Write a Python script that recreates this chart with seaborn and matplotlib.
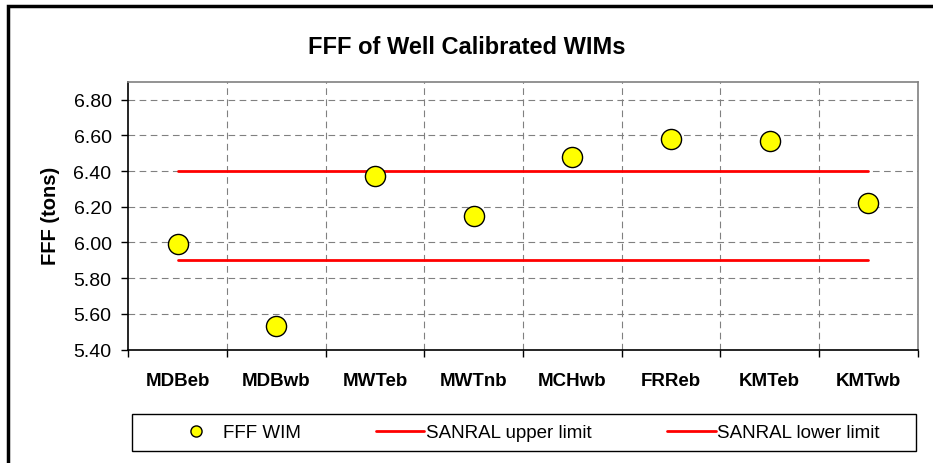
import matplotlib
matplotlib.use("Agg")
from matplotlib import pyplot as plt
from matplotlib.lines import Line2D
from matplotlib.patches import Rectangle
import seaborn as sns
import pandas as pd

# values
sites = ["MDBeb", "MDBwb", "MWTeb", "MWTnb", "MCHwb", "FRReb", "KMTeb", "KMTwb"]
fff_wim = [5.99, 5.53, 6.37, 6.15, 6.48, 6.58, 6.57, 6.22]
upper_limit = 6.40
lower_limit = 5.90
y_ticks = [5.40, 5.60, 5.80, 6.00, 6.20, 6.40, 6.60, 6.80]

sns.set_theme(style="white")
plt.rcParams['font.family'] = ['Liberation Sans', 'DejaVu Sans']
plt.rcParams['text.color'] = 'black'
plt.rcParams['xtick.color'] = 'black'
plt.rcParams['ytick.color'] = 'black'

df = pd.DataFrame({"site": sites, "fff": fff_wim, "pos": range(len(sites))})
limits = pd.DataFrame({
    "pos": [0, len(sites) - 1, 0, len(sites) - 1],
    "value": [upper_limit, upper_limit, lower_limit, lower_limit],
    "kind": ["upper", "upper", "lower", "lower"],
})

fig = plt.figure(figsize=(9.33, 4.64), dpi=100)
ax = fig.add_axes([0.1375, 0.2442, 0.8461, 0.5776])

# grid first so marks sit on top
for x in [i + 0.5 for i in range(len(sites) - 1)]:
    ax.axvline(x, color="#808080", lw=0.8, ls=(0, (6, 4)), zorder=0)
for y in y_ticks[1:]:
    ax.axhline(y, color="#808080", lw=0.8, ls=(0, (6, 4)), zorder=0)

sns.lineplot(data=limits, x="pos", y="value", units="kind", estimator=None,
             color="#ff0000", lw=2.0, ax=ax, zorder=2)
sns.scatterplot(data=df, x="pos", y="fff", s=210, color="#ffff00",
                edgecolor="black", linewidth=1.0, ax=ax, zorder=3)

ax.set_xlim(-0.5, len(sites) - 0.5)
ax.set_ylim(5.40, 6.90)
ax.set_yticks(y_ticks)
ax.set_yticklabels(["%.2f" % v for v in y_ticks], fontsize=14)
ax.set_xticks([i - 0.5 for i in range(len(sites) + 1)])
ax.set_xticklabels([])
ax.set_xticks(range(len(sites)), minor=True)
ax.set_xticklabels(sites, minor=True, fontsize=13.5, fontweight="bold")
ax.tick_params(axis="x", which="minor", length=0, pad=16)
ax.tick_params(axis="x", which="major", direction="out", length=5, width=1, color="black", bottom=True)
ax.tick_params(axis="y", direction="out", length=5, width=1, color="black", left=True, pad=7)
ax.set_xlabel("")
ax.set_ylabel("")

for side in ["left", "bottom"]:
    ax.spines[side].set_color("black")
    ax.spines[side].set_linewidth(1.2)
for side in ["top", "right"]:
    ax.spines[side].set_color("#808080")
    ax.spines[side].set_linewidth(1.2)

fig.text(0.5, 1 - 48 / 464, "FFF of Well Calibrated WIMs", ha="center", va="center",
         fontsize=17, fontweight="bold")
fig.text(50 / 933, 1 - 216 / 464, "FFF (tons)", rotation=90, ha="center", va="center",
         fontsize=14.5, fontweight="bold")

# legend box along the bottom
fig.patches.append(Rectangle((132 / 933, 1 - 452 / 464), 784 / 933, 37 / 464,
                             transform=fig.transFigure, fill=False, edgecolor="black",
                             linewidth=1.0))
handles = [
    Line2D([], [], ls="none", marker="o", markersize=8, markerfacecolor="#ffff00",
           markeredgecolor="black", markeredgewidth=1.0),
    Line2D([], [], color="#ff0000", lw=2.0),
    Line2D([], [], color="#ff0000", lw=2.0),
]
fig.legend(handles, ["FFF WIM", "SANRAL upper limit", "SANRAL lower limit"],
           loc="center", bbox_to_anchor=(526 / 933, 1 - 433.5 / 464), ncol=3,
           frameon=False, fontsize=13.5, handlelength=2.6, handletextpad=0.1,
           columnspacing=4.0, borderpad=0)

# outer chart border (only top and left visible in the reference)
fig.patches.append(Rectangle((8 / 933, -0.1), 1.2, 1 - 7 / 464 + 0.1,
                             transform=fig.transFigure, fill=False, edgecolor="black",
                             linewidth=2.5))

fig.savefig("out.png", dpi=100)
